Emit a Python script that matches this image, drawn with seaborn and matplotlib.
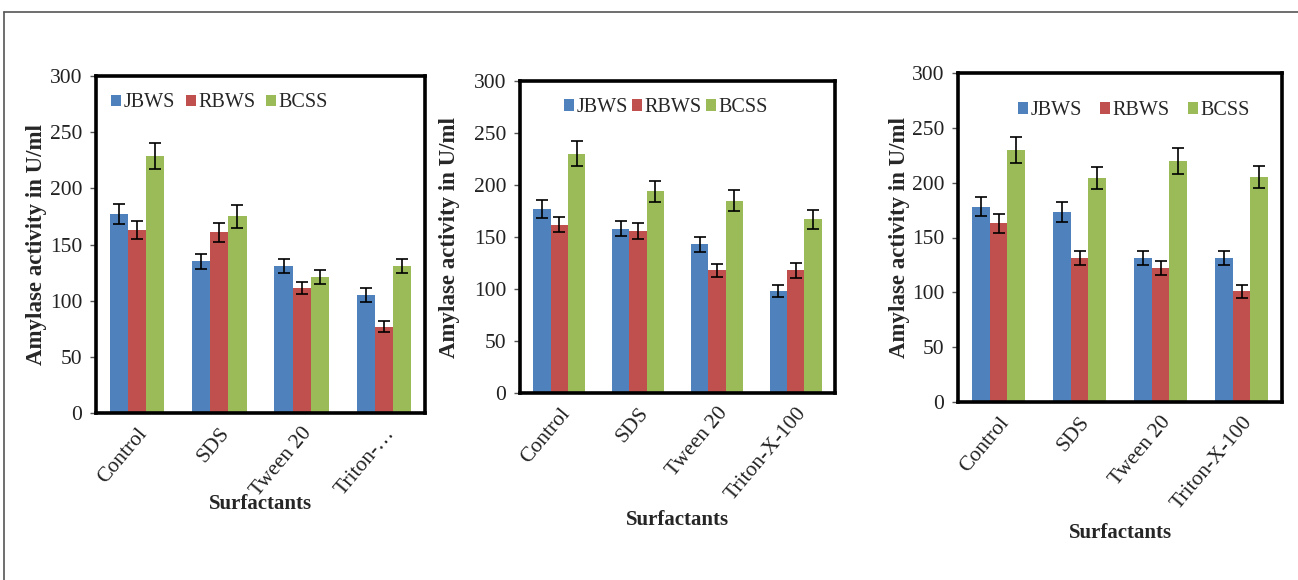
import matplotlib
matplotlib.use("Agg")
import matplotlib.pyplot as plt
from matplotlib.lines import Line2D
import numpy as np
import pandas as pd
import seaborn as sns

# ---------------- data ----------------
series = ["JBWS", "RBWS", "BCSS"]
categories = ["Control", "SDS", "Tween 20", "Triton-X-100"]
tick_labels_1 = ["Control", "SDS", "Tween 20", "Triton-\u2026"]
tick_labels_2 = ["Control", "SDS", "Tween 20", "Triton-X-100"]
tick_labels_3 = ["Control", "SDS", "Tween 20", "Triton-X-100"]

# panel 1
p1_jbws = [177, 135, 131, 105]
p1_rbws = [163, 161, 111, 77]
p1_bcss = [229, 175, 121, 131]
p1_jbws_err = [9, 6.5, 6.5, 6.5]
p1_rbws_err = [8, 8.5, 5.5, 4.5]
p1_bcss_err = [11.5, 10, 6, 6.5]

# panel 2
p2_jbws = [177, 158, 143, 98]
p2_rbws = [162, 156, 118, 118]
p2_bcss = [230, 194, 185, 167]
p2_jbws_err = [9, 7.5, 7, 6]
p2_rbws_err = [7.5, 7.5, 6, 7]
p2_bcss_err = [12, 10, 10, 9]

# panel 3
p3_jbws = [178, 173, 131, 131]
p3_rbws = [163, 131, 122, 101]
p3_bcss = [230, 204, 220, 205]
p3_jbws_err = [8.5, 9, 6.5, 6.5]
p3_rbws_err = [8.5, 6.5, 6.5, 6]
p3_bcss_err = [12, 10, 12, 10]

y_ticks = [0, 50, 100, 150, 200, 250, 300]
y_label = "Amylase activity in U/ml"
x_label = "Surfactants"

colors = ["#4F81BD", "#C0504D", "#9BBB59"]

# ---------------- figure ----------------
W, H = 1298, 580
fig = plt.figure(figsize=(W / 100, H / 100), dpi=100)
sns.set_style("white")
plt.rcParams["font.family"] = ["Liberation Serif", "DejaVu Serif"]

def fx(px):
    return px / W

def fy(py):
    return 1 - py / H

panels = [
    dict(vals=[p1_jbws, p1_rbws, p1_bcss], errs=[p1_jbws_err, p1_rbws_err, p1_bcss_err],
         ticks=tick_labels_1, box=(96, 425, 76, 413),
         leg=(0.045, 0.92), colsp=0.55, ylab_x=-0.15, xlab_y=-0.24),
    dict(vals=[p2_jbws, p2_rbws, p2_bcss], errs=[p2_jbws_err, p2_rbws_err, p2_bcss_err],
         ticks=tick_labels_2, box=(520, 835, 81, 393),
         leg=(0.14, 0.915), colsp=0.2, ylab_x=-0.19, xlab_y=-0.375),
    dict(vals=[p3_jbws, p3_rbws, p3_bcss], errs=[p3_jbws_err, p3_rbws_err, p3_bcss_err],
         ticks=tick_labels_3, box=(958, 1282, 73, 402),
         leg=(0.185, 0.885), colsp=0.9, ylab_x=-0.148, xlab_y=-0.368),
]

for p in panels:
    l, r, t, b = p["box"]
    ax = fig.add_axes([fx(l), fy(b), fx(r - l), (b - t) / H])
    rows = []
    for s, vals in zip(series, p["vals"]):
        for c, v in zip(categories, vals):
            rows.append(dict(Surfactant=c, Source=s, Activity=v))
    df = pd.DataFrame(rows)
    sns.barplot(data=df, x="Surfactant", y="Activity", hue="Source",
                order=categories, hue_order=series, palette=colors,
                saturation=1, width=0.66, errorbar=None, linewidth=0, ax=ax)
    # error bars from bar geometry
    for cont, errs in zip(ax.containers, p["errs"]):
        xs = [bar.get_x() + bar.get_width() / 2 for bar in cont]
        hs = [bar.get_height() for bar in cont]
        ax.errorbar(xs, hs, yerr=errs, fmt="none", ecolor="black",
                    elinewidth=1.2, capsize=4, capthick=1.2, zorder=5)
    ax.set_ylim(0, 300)
    ax.set_xlim(-0.5, 3.5)
    ax.set_yticks(y_ticks)
    ax.set_yticklabels([str(v) for v in y_ticks], fontsize=15.5, color="#222222")
    ax.set_xticks(range(len(categories)))
    ax.set_xticklabels(p["ticks"], rotation=50, ha="right", rotation_mode="anchor",
                       fontsize=15.5, color="#222222")
    ax.tick_params(axis="y", which="major", left=True, length=4, width=1,
                   color="#555555", pad=6, direction="out")
    ax.tick_params(axis="x", which="major", bottom=False, length=0, pad=8)
    for sp in ax.spines.values():
        sp.set_visible(True)
        sp.set_color("black")
        sp.set_linewidth(2.6)
    ax.set_ylabel(y_label, fontsize=16.5, fontweight="bold")
    ax.yaxis.set_label_coords(p["ylab_x"], 0.5)
    ax.set_xlabel(x_label, fontsize=15, fontweight="bold")
    ax.xaxis.set_label_coords(0.5, p["xlab_y"])
    ax.legend(loc="center left", bbox_to_anchor=p["leg"], ncol=3, frameon=False,
              fontsize=14.5, handlelength=0.5, handleheight=0.5, handletextpad=0.12,
              columnspacing=p["colsp"], borderaxespad=0, borderpad=0)
    ax.set_facecolor("white")

# outer frame lines (top and left)
fig.add_artist(Line2D([fx(4), 1], [fy(12), fy(12)], color="#555555", lw=1.2))
fig.add_artist(Line2D([fx(4), fx(4)], [0, fy(12)], color="#555555", lw=1.2))

fig.savefig("out.png", dpi=100, facecolor="white")
